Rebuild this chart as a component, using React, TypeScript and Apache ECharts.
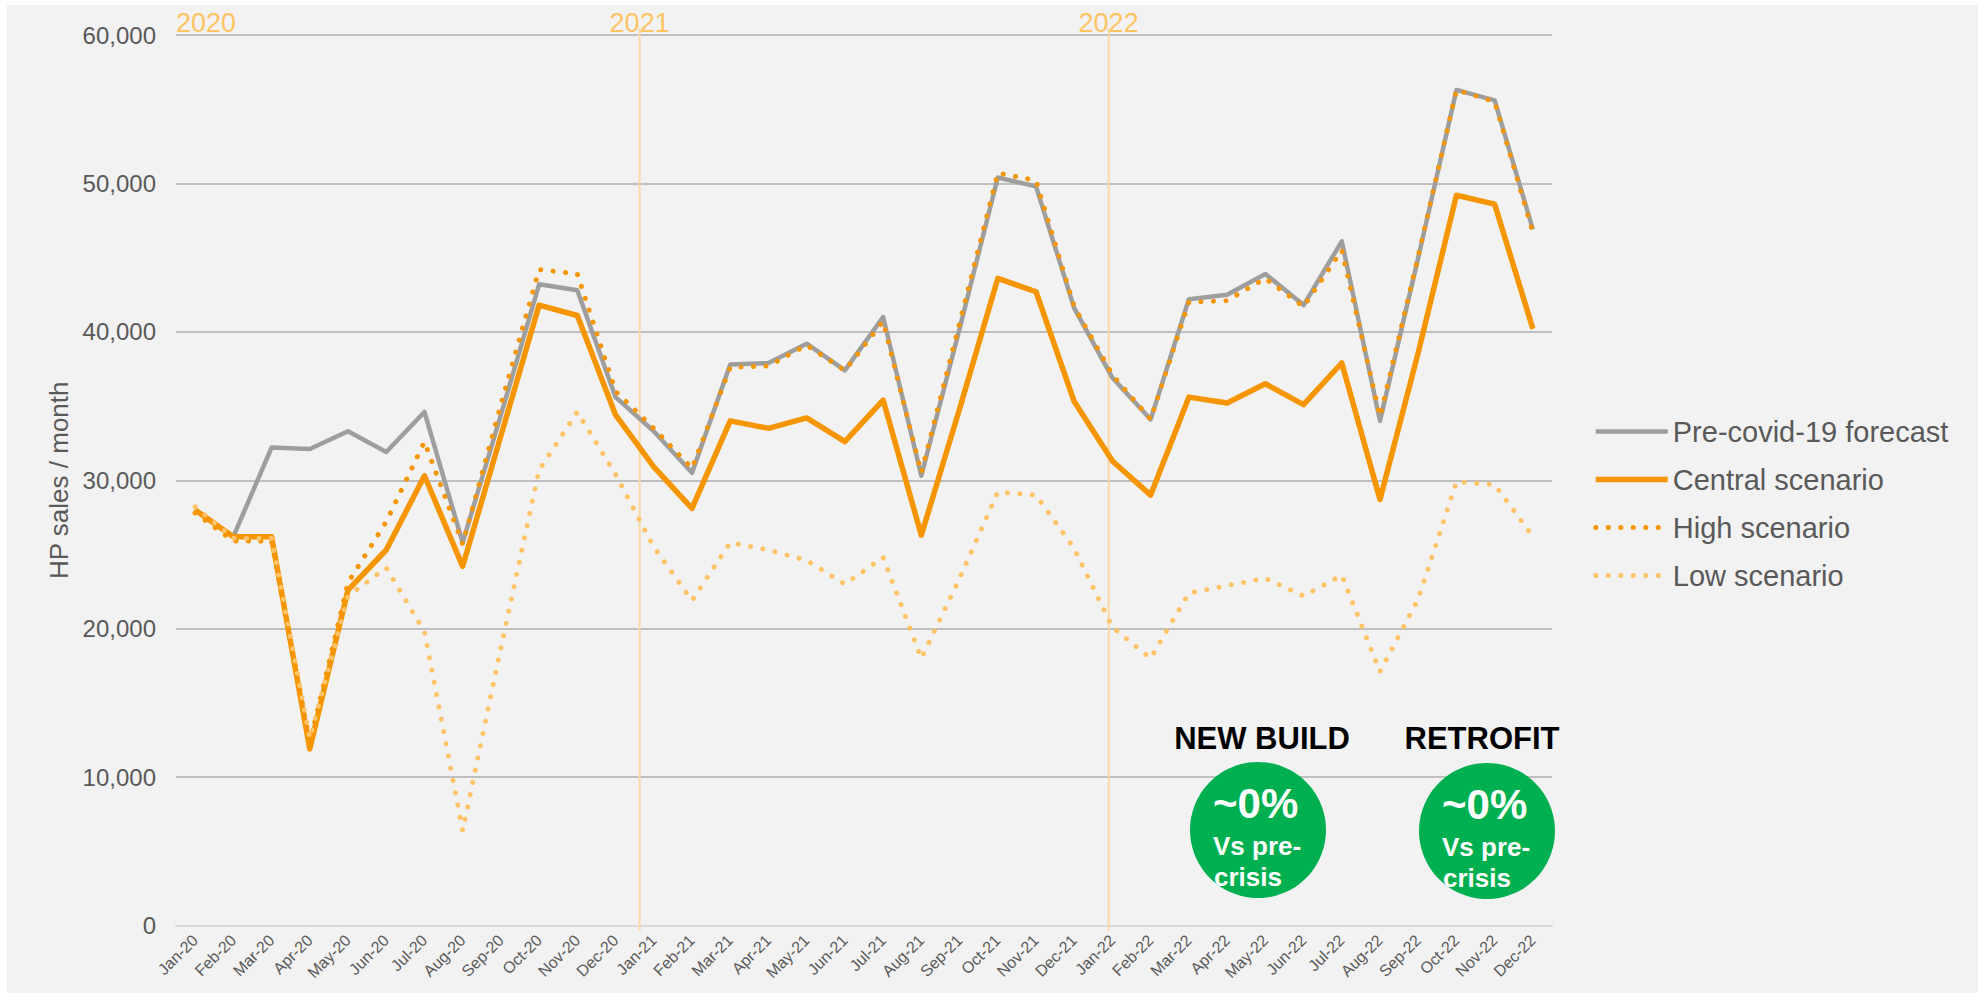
import React, { useEffect, useRef } from "react";
import * as echarts from "echarts";

const months = [
  "Jan-20", "Feb-20", "Mar-20", "Apr-20", "May-20", "Jun-20", "Jul-20", "Aug-20", "Sep-20", "Oct-20", "Nov-20", "Dec-20",
  "Jan-21", "Feb-21", "Mar-21", "Apr-21", "May-21", "Jun-21", "Jul-21", "Aug-21", "Sep-21", "Oct-21", "Nov-21", "Dec-21",
  "Jan-22", "Feb-22", "Mar-22", "Apr-22", "May-22", "Jun-22", "Jul-22", "Aug-22", "Sep-22", "Oct-22", "Nov-22", "Dec-22",
];

const preCovid = [
  28000, 26200, 32200, 32100, 33300, 31900, 34600, 25800, 34400, 43200, 42800, 35600,
  33300, 30500, 37800, 37900, 39200, 37400, 41000, 30300, 40200, 50400, 49800, 41600,
  36900, 34100, 42200, 42500, 43900, 41800, 46100, 34000, 45000, 56300, 55600, 46900,
];
const central = [
  28000, 26200, 26200, 11900, 22600, 25300, 30300, 24200, 33000, 41800, 41100, 34400,
  30900, 28100, 34000, 33500, 34200, 32600, 35400, 26300, 34800, 43600, 42700, 35300,
  31300, 29000, 35600, 35200, 36500, 35100, 37900, 28700, 38600, 49200, 48600, 40200,
];
const high = [
  27800, 25900, 25900, 12300, 23100, 27200, 32600, 25700, 35100, 44200, 43900, 36000,
  33500, 30800, 37600, 37700, 39100, 37400, 40700, 30500, 40600, 50700, 50200, 41700,
  37100, 34100, 42000, 42100, 43600, 41700, 45500, 34300, 45100, 56300, 55500, 46700,
];
const low = [
  28200, 26100, 26100, 12600, 22200, 24100, 19800, 6400, 18700, 30700, 34600, 30400,
  25500, 21900, 25800, 25300, 24600, 23000, 24800, 18000, 23400, 29200, 29000, 25400,
  20100, 18000, 22400, 22900, 23400, 22200, 23600, 17100, 22000, 29900, 29700, 26200,
];

const seriesNames = ["Pre-covid-19 forecast", "Central scenario", "High scenario", "Low scenario"];
const yearLabels = ["2020", "2021", "2022"];
const yearStartMonths = ["Jan-21", "Jan-22"];
const badgeTitles = ["NEW BUILD", "RETROFIT"];
const badgeValues = ["~0%", "~0%"];
const badgeNotes = [["Vs pre-", "crisis"], ["Vs pre-", "crisis"]];

const FONT = '"Liberation Sans", Arial, sans-serif';
const TEXT = "#595959";
const GRAY = "#9E9E9E";
const ORANGE = "#F59500";
const LIGHT = "#FFC468";
const YEAR_TEXT = "#FFC462";
const YEAR_LINE = "#F9D9A6";
const GREEN = "#00B050";

export default function App() {
  const ref = useRef<HTMLDivElement>(null);

  useEffect(() => {
    if (!ref.current) return;
    const chart = echarts.init(ref.current, undefined, { renderer: "svg" });
    const dotted = [0.1, 12.4];
    const option: any = {
      animation: false,
      backgroundColor: "transparent",
      textStyle: { fontFamily: FONT },
      grid: { left: 176, right: 433, top: 35, bottom: 74.5, containLabel: false },
      xAxis: {
        type: "category",
        data: months,
        boundaryGap: true,
        axisTick: { show: false },
        axisLine: { lineStyle: { color: "#D9D9D9", width: 2 } },
        axisLabel: { rotate: 45, interval: 0, fontSize: 16, color: TEXT, margin: 12, fontFamily: FONT },
        splitLine: { show: false },
      },
      yAxis: {
        type: "value",
        min: 0,
        max: 60000,
        interval: 10000,
        axisLine: { show: false },
        axisTick: { show: false },
        axisLabel: {
          fontSize: 24,
          color: TEXT,
          margin: 20,
          fontFamily: FONT,
          formatter: (v: number) => v.toLocaleString("en-US"),
        },
        splitLine: { lineStyle: { color: "#BFBFBF", width: 2 } },
        name: "HP sales / month",
        nameLocation: "middle",
        nameGap: 104,
        nameTextStyle: { fontSize: 26, color: TEXT, fontFamily: FONT },
      },
      legend: {
        orient: "vertical",
        left: 1593,
        top: 417,
        padding: 0,
        itemWidth: 72,
        itemHeight: 14,
        itemGap: 19,
        data: seriesNames,
        textStyle: { fontSize: 29, color: TEXT, fontFamily: FONT },
        lineStyle: { width: "inherit" },
        itemStyle: { opacity: 0, borderWidth: 0 },
      },
      series: [
        {
          name: seriesNames[0],
          type: "line",
          data: preCovid,
          symbol: "none",
          lineStyle: { color: GRAY, width: 4.5, join: "round" },
          itemStyle: { color: GRAY },
          z: 2,
        },
        {
          name: seriesNames[1],
          type: "line",
          data: central,
          symbol: "none",
          lineStyle: { color: ORANGE, width: 5.5, join: "round" },
          itemStyle: { color: ORANGE },
          z: 3,
        },
        {
          name: seriesNames[2],
          type: "line",
          data: high,
          symbol: "none",
          lineStyle: { color: ORANGE, width: 5, type: dotted, cap: "round" },
          itemStyle: { color: ORANGE },
          z: 4,
        },
        {
          name: seriesNames[3],
          type: "line",
          data: low,
          symbol: "none",
          lineStyle: { color: LIGHT, width: 5, type: dotted, cap: "round" },
          itemStyle: { color: LIGHT },
          z: 5,
        },
      ],
    };
    chart.setOption(option);

    // Derive annotation positions from the chart's own scales
    const px = (cat: string | number) => chart.convertToPixel({ xAxisIndex: 0 }, cat) as number;
    const py = (v: number) => chart.convertToPixel({ yAxisIndex: 0 }, v) as number;
    const band = px(months[1]) - px(months[0]);
    const gridLeft = px(months[0]) - band / 2;
    const yTop = py(60000);
    const yBottom = py(0);
    const lineShift = [-0.37, -0.1];
    const yearXs = yearStartMonths.map((m, i) => px(m) + lineShift[i] * band);

    const graphic: any[] = [];
    yearXs.forEach((x) => {
      graphic.push({
        type: "line",
        z: 1,
        shape: { x1: x, y1: yTop - 7, x2: x, y2: yBottom + 5 },
        style: { stroke: YEAR_LINE, lineWidth: 2 },
      });
    });
    graphic.push({
      type: "text",
      z: 10,
      x: gridLeft,
      y: yTop - 12,
      style: { text: yearLabels[0], fill: YEAR_TEXT, font: `27px ${FONT}`, textAlign: "left", textVerticalAlign: "middle" },
    });
    yearXs.forEach((x, i) => {
      graphic.push({
        type: "text",
        z: 10,
        x,
        y: yTop - 12,
        style: { text: yearLabels[i + 1], fill: YEAR_TEXT, font: `27px ${FONT}`, textAlign: "center", textVerticalAlign: "middle" },
      });
    });

    const badgeCenters = [
      [1258, 830],
      [1487, 831],
    ];
    const titleCenters = [1262, 1482];
    badgeCenters.forEach(([cx, cy], i) => {
      graphic.push({
        type: "text",
        z: 10,
        x: titleCenters[i],
        y: 738,
        style: { text: badgeTitles[i], fill: "#000000", font: `bold 31px ${FONT}`, textAlign: "center", textVerticalAlign: "middle" },
      });
      graphic.push({
        type: "circle",
        z: 10,
        shape: { cx, cy, r: 68 },
        style: { fill: GREEN },
      });
      graphic.push({
        type: "text",
        z: 11,
        x: cx - 45,
        y: cy - 27,
        style: { text: badgeValues[i], fill: "#FFFFFF", font: `bold 42px ${FONT}`, textAlign: "left", textVerticalAlign: "middle" },
      });
      badgeNotes[i].forEach((line, j) => {
        graphic.push({
          type: "text",
          z: 11,
          x: cx - 45 + (j === 1 ? 1 : 0),
          y: cy + 16 + j * 31,
          style: { text: line, fill: "#FFFFFF", font: `bold 26px ${FONT}`, textAlign: "left", textVerticalAlign: "middle" },
        });
      });
    });

    chart.setOption({ graphic });

    return () => {
      chart.dispose();
    };
  }, []);

  return (
    <div style={{ position: "fixed", left: 0, top: 0, width: 1985, height: 1000, background: "#FFFFFF" }}>
      <div style={{ position: "absolute", left: 7, top: 5, width: 1971, height: 988, background: "#F2F2F2" }} />
      <div ref={ref} style={{ position: "absolute", left: 0, top: 0, width: 1985, height: 1000 }} />
    </div>
  );
}
